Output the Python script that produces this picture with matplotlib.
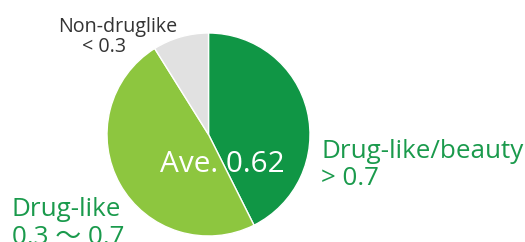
import matplotlib
matplotlib.use("Agg")
import matplotlib.pyplot as plt

categories = ["Drug-like/beauty", "Drug-like", "Non-druglike"]
shares = [42.6, 48.5, 8.9]
colors = ["#109645", "#8dc63f", "#e1e1e1"]
average = 0.62

plt.rcParams['font.family'] = ['Open Sans', 'Noto Sans CJK JP', 'DejaVu Sans']

W, H = 525, 242
fig = plt.figure(figsize=(W / 100, H / 100), dpi=100)
ax = fig.add_axes([0, 0, 1, 1])

cx, cy, r = 208.5, H - 134.5, 101.5
ax.pie(shares, colors=colors, startangle=90, counterclock=False,
       center=(cx, cy), radius=r, frame=True,
       wedgeprops=dict(edgecolor='white', linewidth=1.0))
ax.set_xlim(0, W)
ax.set_ylim(0, H)
ax.set_aspect('auto')
ax.axis('off')

green_txt = "#1a9a4c"
big = 18.7
ax.text(222.5, H - 171.5, f"Ave. {average:.2f}", color='white', fontsize=21.4,
        ha='center', va='baseline')
ax.text(321, H - 158, "Drug-like/beauty", color=green_txt, fontsize=big,
        ha='left', va='baseline')
ax.text(321, H - 185, "> 0.7", color=green_txt, fontsize=big,
        ha='left', va='baseline')
ax.text(12, H - 216.5, "Drug-like", color=green_txt, fontsize=big,
        ha='left', va='baseline')
ax.text(12, H - 244, "0.3 〜 0.7", color=green_txt, fontsize=big,
        ha='left', va='baseline')
ax.text(58, H - 32, "Non-druglike", color="#333333", fontsize=14.2,
        ha='left', va='baseline')
ax.text(82, H - 51.5, "< 0.3", color="#333333", fontsize=14.2,
        ha='left', va='baseline')

fig.savefig("out.png", dpi=100)
